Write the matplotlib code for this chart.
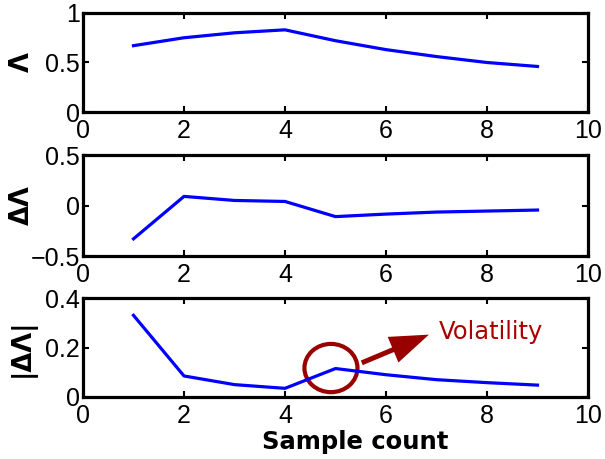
import matplotlib
matplotlib.use('Agg')
import matplotlib.pyplot as plt
from matplotlib.patches import Ellipse

samples = [1, 2, 3, 4, 5, 6, 7, 8, 9]
lam = [0.67, 0.75, 0.80, 0.83, 0.72, 0.63, 0.56, 0.50, 0.46]
d_lam = [-0.33, 0.09, 0.05, 0.04, -0.11, -0.085, -0.065, -0.055, -0.045]
abs_d_lam = [0.33, 0.085, 0.05, 0.035, 0.115, 0.09, 0.07, 0.058, 0.048]

ylabels = ['Λ', 'ΔΛ', '|ΔΛ|']
ylims = [(0, 1), (-0.5, 0.5), (0, 0.4)]
yticks = [[0, 0.5, 1], [-0.5, 0, 0.5], [0, 0.2, 0.4]]
ytick_labels = [['0', '0.5', '1'], ['\u22120.5', '0', '0.5'], ['0', '0.2', '0.4']]

fig = plt.figure(figsize=(6.05, 4.59), dpi=100)
tick_font = 'Liberation Sans'

tops = [13, 155, 298]
bottoms = [112, 256, 397]
axes = []
for i, series in enumerate([lam, d_lam, abs_d_lam]):
    left = 83 / 605
    width = (588 - 83) / 605
    bottom = 1 - bottoms[i] / 459
    height = (bottoms[i] - tops[i]) / 459
    ax = fig.add_axes([left, bottom, width, height])
    ax.plot(samples, series, color='#0000ff', lw=2.3)
    ax.set_xlim(0, 10)
    ax.set_ylim(*ylims[i])
    ax.set_xticks(range(0, 11, 2))
    ax.set_yticks(yticks[i])
    ax.set_yticklabels(ytick_labels[i])
    ax.tick_params(direction='in', length=4, width=1.5, top=True, right=True,
                   labelsize=18)
    ax.tick_params(axis='y', pad=2)
    ax.tick_params(axis='x', pad=5)
    for lab in ax.get_xticklabels() + ax.get_yticklabels():
        lab.set_fontfamily(tick_font)
    for sp in ax.spines.values():
        sp.set_linewidth(2.3)
    ax.set_ylabel(ylabels[i], fontsize=18.5, fontweight='bold', va='center')
    ax.yaxis.set_label_coords(-0.121, 0.5)
    axes.append(ax)

axes[2].set_xlabel('Sample count', fontsize=17.5, fontweight='bold')
axes[2].xaxis.set_label_coords(0.539, -0.33)

ax = axes[2]
ax.add_patch(Ellipse((4.91, 0.117), 1.05, 0.195, fill=False,
                     edgecolor='#990000', lw=3.0, clip_on=False))
ax.annotate('', xy=(6.85, 0.252), xytext=(5.52, 0.138),
            arrowprops=dict(width=3.6, headwidth=20, headlength=28,
                            facecolor='#990000', edgecolor='#990000', lw=0))
ax.text(7.05, 0.263, 'Volatility', color='#aa0000', fontsize=17.5,
        va='center', ha='left')

fig.savefig('out.png', dpi=100)
